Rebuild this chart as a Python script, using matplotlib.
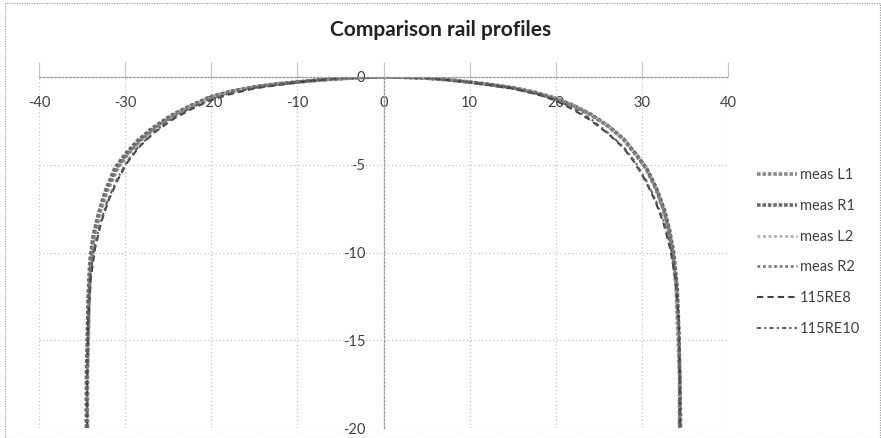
import matplotlib
matplotlib.use("Agg")
import matplotlib.pyplot as plt
from matplotlib.patches import Rectangle

plt.rcParams['font.family'] = ['Lato', 'DejaVu Sans']

# measured head profiles (mm), left field side -> right field side
meas_L1_x = [-34.4, -34.4, -34.3, -34.2, -34.0, -33.6, -33.0, -32.2, -31.0, -29.8, -28.3, -26.6,
             -24.5, -22.3, -20.0, -17.5, -15.0, -12.5, -10.0, -7.5, -5.0, -2.5, 0.0,
             2.5, 5.0, 7.5, 10.0, 12.5, 15.0, 17.5, 20.0, 22.0, 24.0, 26.0, 27.8, 29.3,
             30.5, 31.6, 32.5, 33.1, 33.6, 34.0, 34.2, 34.4, 34.4]
meas_L1_y = [-20.0, -17.0, -15.0, -12.5, -10.5, -9.0, -7.8, -6.5, -5.2, -4.4, -3.6, -2.9,
             -2.2, -1.65, -1.15, -0.8, -0.57, -0.42, -0.3, -0.18, -0.1, -0.03, 0.0,
             -0.02, -0.06, -0.15, -0.28, -0.42, -0.6, -0.85, -1.2, -1.6, -2.1, -2.75, -3.5, -4.4,
             -5.2, -6.3, -7.5, -8.6, -10.0, -12.0, -14.5, -17.0, -20.0]

meas_R1_x = [-34.5, -34.5, -34.4, -34.3, -34.1, -33.7, -33.1, -32.3, -31.2, -30.0, -28.5, -26.8,
             -24.7, -22.5, -20.2, -17.6, -15.0, -12.5, -10.0, -7.5, -5.0, -2.5, 0.0,
             2.5, 5.0, 7.5, 10.0, 12.5, 15.0, 17.5, 20.0, 22.1, 24.1, 26.1, 27.9, 29.4,
             30.6, 31.7, 32.6, 33.2, 33.7, 34.1, 34.3, 34.4, 34.5]
meas_R1_y = [-20.0, -17.0, -15.0, -12.5, -10.5, -9.0, -7.8, -6.5, -5.2, -4.4, -3.6, -2.9,
             -2.2, -1.65, -1.15, -0.8, -0.56, -0.4, -0.28, -0.17, -0.09, -0.02, 0.0,
             -0.02, -0.07, -0.16, -0.3, -0.45, -0.63, -0.9, -1.25, -1.65, -2.15, -2.8, -3.55, -4.45,
             -5.25, -6.35, -7.55, -8.7, -10.0, -12.0, -14.5, -17.0, -20.0]

meas_L2_x = [-34.3, -34.3, -34.2, -34.1, -33.9, -33.5, -32.9, -32.0, -30.8, -29.6, -28.1, -26.4,
             -24.3, -22.1, -19.8, -17.3, -15.0, -12.5, -10.0, -7.5, -5.0, -2.5, 0.0,
             2.5, 5.0, 7.5, 10.0, 12.5, 15.0, 17.5, 20.0, 21.9, 23.9, 25.9, 27.7, 29.2,
             30.4, 31.5, 32.4, 33.0, 33.5, 33.9, 34.1, 34.3, 34.3]
meas_L2_y = meas_L1_y

meas_R2_x = [-34.4, -34.4, -34.3, -34.2, -34.0, -33.6, -33.0, -32.1, -30.9, -29.7, -28.2, -26.5,
             -24.4, -22.2, -19.9, -17.4, -15.0, -12.5, -10.0, -7.5, -5.0, -2.5, 0.0,
             2.5, 5.0, 7.5, 10.0, 12.5, 15.0, 17.5, 20.0, 22.0, 24.0, 26.0, 27.8, 29.3,
             30.5, 31.6, 32.5, 33.1, 33.6, 34.0, 34.2, 34.4, 34.4]
meas_R2_y = meas_R1_y

# design profiles
re8_x = [-34.4, -34.4, -34.3, -34.0, -33.5, -32.8, -31.9, -30.9, -29.8, -28.4, -26.7, -24.6,
         -22.4, -20.2, -18.0, -15.0, -10.0, -5.0, 0.0,
         5.0, 10.0, 15.0, 18.0, 20.0, 22.0, 24.0, 26.0, 27.8, 29.2, 30.4, 31.5, 32.5,
         33.3, 33.9, 34.3, 34.4, 34.4]
re8_y = [-20.0, -17.0, -14.0, -11.5, -9.8, -8.3, -7.0, -5.9, -4.9, -4.0, -3.2, -2.45,
         -1.85, -1.35, -1.0, -0.65, -0.3, -0.06, 0.0,
         -0.06, -0.3, -0.65, -1.0, -1.35, -1.85, -2.45, -3.2, -4.0, -4.9, -5.9, -7.0, -8.3,
         -9.8, -11.5, -14.0, -17.0, -20.0]

re10_x = [-34.4, -34.4, -34.3, -34.1, -33.6, -32.9, -32.0, -31.0, -29.9, -28.5, -26.8, -24.7,
          -22.5, -20.3, -18.0, -15.0, -10.0, -5.0, 0.0,
          5.0, 10.0, 15.0, 18.0, 20.0, 22.1, 24.1, 26.1, 27.9, 29.3, 30.5, 31.6, 32.6,
          33.4, 34.0, 34.3, 34.4, 34.4]
re10_y = [-20.0, -17.0, -14.0, -11.5, -9.8, -8.3, -7.0, -5.9, -4.9, -4.0, -3.2, -2.4,
          -1.8, -1.3, -0.95, -0.62, -0.28, -0.05, 0.0,
          -0.05, -0.28, -0.62, -0.95, -1.3, -1.8, -2.4, -3.2, -4.0, -4.9, -5.9, -7.0, -8.3,
          -9.8, -11.5, -14.0, -17.0, -20.0]

x_ticks = [-40, -30, -20, -10, 0, 10, 20, 30, 40]
y_ticks = [-20, -15, -10, -5, 0]

fig = plt.figure(figsize=(8.81, 4.38), dpi=100)
ax = fig.add_axes([39 / 881, 1 - 428 / 438, 689 / 881, 351 / 438])

ax.plot(meas_L1_x, meas_L1_y, color='#8a8a8a', lw=2.6, ls=(0, (1, 0.5)), label='meas L1')
ax.plot(meas_R1_x, meas_R1_y, color='#6a6a6a', lw=2.6, ls=(0, (1, 0.5)), label='meas R1')
ax.plot(meas_L2_x, meas_L2_y, color='#b0b0b0', lw=2.0, ls=(0, (1, 1)), label='meas L2')
ax.plot(meas_R2_x, meas_R2_y, color='#7c7c7c', lw=2.0, ls=(0, (1, 1)), label='meas R2')
ax.plot(re8_x, re8_y, color='#404040', lw=1.5, ls=(0, (3, 2)), label='115RE8')
ax.plot(re10_x, re10_y, color='#606060', lw=1.5, ls=(0, (2, 1.5, 1, 1.5)), label='115RE10')

ax.set_xlim(-40, 40)
ax.set_ylim(-20, 0)
ax.set_xticks(x_ticks)
ax.set_yticks(y_ticks)

ax.grid(True, color='#c4c4c4', lw=0.9, ls=(0, (1, 2)))
ax.set_axisbelow(True)

for side in ('top', 'right'):
    ax.spines[side].set_visible(False)
ax.spines['bottom'].set_position(('data', 0))
ax.spines['left'].set_position(('data', 0))
for side in ('bottom', 'left'):
    ax.spines[side].set_color('#9a9a9a')
    ax.spines[side].set_linewidth(0.9)
    ax.spines[side].set_linestyle((0, (1.5, 1.5)))

ax.tick_params(axis='x', direction='in', length=11, width=0.8, color='#c4c4c4',
               pad=14, labelsize=10.5, labelcolor='#404040')
ax.tick_params(axis='y', length=0, pad=13, labelsize=10.5, labelcolor='#404040')
ax.xaxis.set_major_formatter(plt.FuncFormatter(lambda v, p: f'{v:.0f}'))
ax.yaxis.set_major_formatter(plt.FuncFormatter(lambda v, p: f'{v:.0f}'))

fig.text(0.5, 1 - 30 / 438, 'Comparison rail profiles', ha='center', va='center',
         fontsize=15, fontweight='bold', color='#222222')

ax.legend(loc='center left', bbox_to_anchor=(750 / 881, 1 - 252 / 438),
          bbox_transform=fig.transFigure, frameon=False, fontsize=10.5,
          handlelength=2.7, handletextpad=0.2, labelspacing=1.15, borderpad=0,
          labelcolor='#404040')

# chart border
fig.patches.append(Rectangle((5 / 881, 0), 1 - 6 / 881, 1 - 3 / 438,
                             transform=fig.transFigure, fill=False,
                             edgecolor='#a0a0a0', lw=0.9, ls=(0, (1, 1))))

fig.savefig('out.png', dpi=100)
